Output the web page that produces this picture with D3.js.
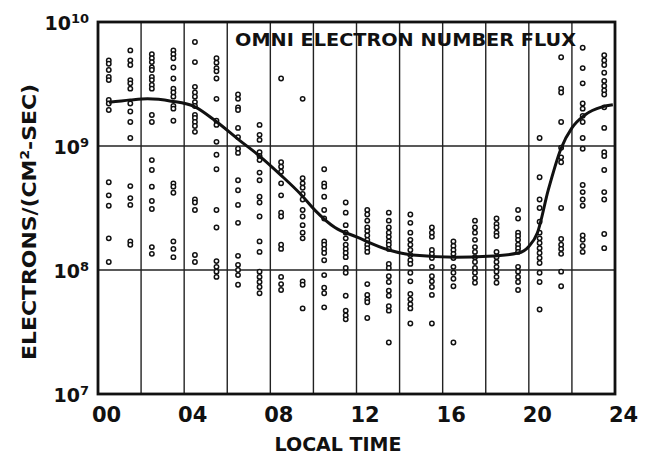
<!DOCTYPE html>
<html>
<head>
<meta charset="utf-8">
<script src="https://cdn.jsdelivr.net/npm/d3@7"></script>
<style>
  body { margin: 0; background: #fff; }
  svg { display: block; }
  text { font-family: "DejaVu Sans", sans-serif; font-weight: bold; fill: #111; }
</style>
</head>
<body>
<svg width="646" height="459"></svg>
<script>
// hourly bins of local time, one column of samples each
let hours = [0.5, 1.5, 2.5, 3.5, 4.5, 5.5, 6.5, 7.5, 8.5, 9.5, 10.5, 11.5,
  12.5, 13.5, 14.5, 15.5, 16.5, 17.5, 18.5, 19.5, 20.5, 21.5, 22.5, 23.5];

// omni electron number flux, electrons/(cm2-sec)
let fluxByHour = [
  [4.9e9, 4.6e9, 4.1e9, 3.6e9, 3.4e9, 2.35e9, 2.2e9, 1.95e9, 5.1e8, 4.0e8, 3.3e8, 1.8e8, 1.16e8],
  [5.9e9, 4.9e9, 4.5e9, 3.4e9, 3.2e9, 2.9e9, 2.2e9, 1.9e9, 1.56e9, 1.16e9, 4.75e8, 3.8e8, 3.35e8, 1.7e8, 1.6e8],
  [5.5e9, 5.1e9, 4.75e9, 4.3e9, 4.1e9, 3.6e9, 3.4e9, 3.1e9, 2.9e9, 1.78e9, 1.56e9, 7.7e8, 6.4e8, 4.7e8, 3.6e8, 3.1e8, 1.53e8, 1.35e8],
  [5.9e9, 5.5e9, 5.1e9, 4.3e9, 3.5e9, 2.9e9, 2.7e9, 2.5e9, 2.1e9, 2.0e9, 1.6e9, 5.0e8, 4.7e8, 4.2e8, 1.7e8, 1.48e8, 1.27e8],
  [6.9e9, 4.75e9, 3.0e9, 2.7e9, 2.5e9, 2.26e9, 2.1e9, 1.78e9, 1.68e9, 1.56e9, 1.45e9, 1.3e9, 3.7e8, 3.5e8, 3.05e8, 1.32e8, 1.16e8],
  [5.1e9, 4.7e9, 4.25e9, 4.0e9, 3.5e9, 2.4e9, 1.6e9, 1.48e9, 1.08e9, 8.5e8, 6.5e8, 3.05e8, 2.2e8, 1.18e8, 1.06e8, 9.7e7, 8.8e7],
  [2.6e9, 2.4e9, 2.05e9, 1.95e9, 1.4e9, 1.18e9, 9.5e8, 8.8e8, 5.3e8, 4.4e8, 3.35e8, 2.4e8, 1.3e8, 1.1e8, 1.0e8, 9.1e7, 7.6e7],
  [1.48e9, 1.23e9, 1.12e9, 8.9e8, 8.3e8, 7.7e8, 6.1e8, 5.3e8, 3.9e8, 3.5e8, 2.7e8, 1.7e8, 1.4e8, 9.7e7, 8.8e7, 8.0e7, 7.3e7, 6.5e7],
  [3.5e9, 7.4e8, 6.8e8, 6.2e8, 5.0e8, 4.0e8, 2.9e8, 2.7e8, 1.6e8, 1.48e8, 8.8e7, 7.7e7, 6.9e7],
  [2.4e9, 5.5e8, 5.0e8, 4.6e8, 4.1e8, 3.7e8, 3.05e8, 2.7e8, 2.3e8, 2.0e8, 1.8e8, 8.1e7, 7.6e7, 4.9e7],
  [6.5e8, 5.0e8, 4.7e8, 3.9e8, 3.05e8, 2.6e8, 1.7e8, 1.6e8, 1.48e8, 1.37e8, 1.2e8, 9.1e7, 7.2e7, 6.5e7, 5.0e7],
  [3.5e8, 2.9e8, 2.3e8, 2.0e8, 1.8e8, 1.6e8, 1.48e8, 1.37e8, 1.27e8, 1.04e8, 9.5e7, 6.2e7, 4.7e7, 4.3e7, 4.0e7],
  [3.05e8, 2.8e8, 2.5e8, 2.2e8, 2.06e8, 1.9e8, 1.75e8, 1.6e8, 1.5e8, 1.4e8, 7.7e7, 6.3e7, 5.8e7, 5.5e7, 4.1e7],
  [2.9e8, 2.5e8, 2.2e8, 2.0e8, 1.85e8, 1.7e8, 1.6e8, 1.48e8, 1.12e8, 1.04e8, 8.9e7, 8.0e7, 6.8e7, 6.2e7, 5.1e7, 4.7e7, 2.6e7],
  [2.8e8, 2.4e8, 2.0e8, 1.75e8, 1.6e8, 1.45e8, 1.32e8, 1.2e8, 1.12e8, 9.5e7, 8.1e7, 6.4e7, 5.8e7, 5.3e7, 4.9e7, 3.7e7],
  [2.2e8, 2.0e8, 1.85e8, 1.45e8, 1.35e8, 1.25e8, 1.06e8, 8.9e7, 8.1e7, 7.3e7, 6.3e7, 3.7e7],
  [1.7e8, 1.56e8, 1.45e8, 1.35e8, 1.25e8, 1.06e8, 9.5e7, 8.5e7, 7.4e7, 2.6e7],
  [2.5e8, 2.2e8, 2.0e8, 1.75e8, 1.53e8, 1.4e8, 1.27e8, 1.16e8, 1.04e8, 9.5e7, 8.6e7, 7.9e7],
  [2.6e8, 2.35e8, 2.2e8, 2.0e8, 1.88e8, 1.4e8, 1.27e8, 1.16e8, 1.06e8, 9.7e7, 8.8e7, 7.9e7],
  [3.05e8, 2.6e8, 2.0e8, 1.88e8, 1.75e8, 1.6e8, 1.5e8, 1.4e8, 1.06e8, 9.7e7, 8.8e7, 8.0e7, 6.9e7],
  [1.16e9, 5.6e8, 3.7e8, 3.16e8, 2.45e8, 2.0e8, 1.8e8, 1.65e8, 1.5e8, 1.37e8, 1.25e8, 1.14e8, 9.5e7, 8.0e7, 4.8e7],
  [5.2e9, 2.9e9, 2.7e9, 1.56e9, 9.7e8, 8.1e8, 7.4e8, 3.16e8, 1.78e8, 1.6e8, 1.48e8, 1.35e8, 9.7e7, 7.4e7],
  [6.2e9, 4.25e9, 3.2e9, 2.2e9, 2.0e9, 1.75e9, 1.56e9, 1.16e9, 9.5e8, 4.85e8, 4.25e8, 3.7e8, 3.3e8, 1.9e8, 1.75e8, 1.56e8, 1.4e8],
  [5.4e9, 4.9e9, 4.5e9, 3.9e9, 3.35e9, 3.05e9, 2.8e9, 2.6e9, 2.05e9, 1.4e9, 8.9e8, 8.3e8, 6.4e8, 4.25e8, 3.7e8, 1.95e8, 1.5e8]
];

// hand drawn average curve
let curveHours = [0.5, 1.5, 2.3, 3.4, 4.5, 5.4, 6.6, 7.5, 8.5, 9.4, 10.1, 11.0, 12.0,
  13.5, 14.6, 16.6, 18.1, 19.5, 20.0, 20.4, 20.9, 21.5, 22.0, 22.6, 23.4, 23.9];
let curveFlux = [2.25e9, 2.35e9, 2.4e9, 2.3e9, 2.07e9, 1.62e9, 1.1e9, 8.3e8, 5.8e8, 4.1e8, 3.0e8, 2.2e8, 1.85e8,
  1.45e8, 1.32e8, 1.27e8, 1.29e8, 1.37e8, 1.55e8, 2.0e8, 4.4e8, 9.6e8, 1.4e9, 1.78e9, 2.07e9, 2.15e9];

let xTicks = [0, 4, 8, 12, 16, 20, 24];
let xGrid = [2, 4, 6, 8, 10, 12, 14, 16, 18, 20, 22];
let yTicks = [1e7, 1e8, 1e9, 1e10];
let yGrid = [1e8, 1e9];

let title = "OMNI ELECTRON NUMBER FLUX";
let xTitle = "LOCAL TIME";

let margin = { top: 22, right: 31, bottom: 65, left: 98 };
let width = 646 - margin.left - margin.right;
let height = 459 - margin.top - margin.bottom;

let xScale = d3.scaleLinear().domain([0, 24]).range([0, width]);
let yScale = d3.scaleLog().domain([1e7, 1e10]).range([height, 0]);

let svg = d3.select("svg")
  .append("g")
  .attr("transform", "translate(" + margin.left + "," + margin.top + ")");

// grid lines
svg.append("g").selectAll("line")
  .data(xGrid)
  .enter().append("line")
  .attr("x1", d => xScale(d)).attr("x2", d => xScale(d))
  .attr("y1", 0).attr("y2", height)
  .attr("stroke", "#222").attr("stroke-width", 1.4);

svg.append("g").selectAll("line")
  .data(yGrid)
  .enter().append("line")
  .attr("x1", 0).attr("x2", width)
  .attr("y1", d => yScale(d)).attr("y2", d => yScale(d))
  .attr("stroke", "#222").attr("stroke-width", 1.4);

// frame
svg.append("rect")
  .attr("width", width).attr("height", height)
  .attr("fill", "none").attr("stroke", "#111").attr("stroke-width", 2.8);

// x axis
let xAxis = d3.axisBottom(xScale)
  .tickValues(xTicks)
  .tickSize(0)
  .tickPadding(12)
  .tickFormat(d3.format("02d"));

let gx = svg.append("g")
  .attr("transform", "translate(0," + height + ")")
  .call(xAxis);
gx.select(".domain").remove();
gx.selectAll("text")
  .attr("font-size", 21)
  .attr("fill", "#111")
  .attr("font-family", null)
  .attr("dy", "0.75em")
  .attr("x", 8);

gx.append("text")
  .attr("x", 240)
  .attr("y", 57)
  .attr("font-size", 19)
  .style("text-anchor", "middle")
  .text(xTitle);

// y axis, labels as powers of ten
let yAxis = d3.axisLeft(yScale)
  .tickValues(yTicks)
  .tickSize(0)
  .tickPadding(9)
  .tickFormat("");

let gy = svg.append("g").call(yAxis);
gy.select(".domain").remove();
gy.selectAll(".tick text")
  .attr("font-size", 19)
  .attr("fill", "#111")
  .attr("font-family", null)
  .attr("dy", "0.38em")
  .each(function(d) {
    let t = d3.select(this);
    t.append("tspan").text("10");
    t.append("tspan")
      .attr("dy", -7)
      .attr("font-size", 13)
      .text(Math.round(Math.log10(d)));
  });

// y title, rotated
let yLabel = d3.select("svg").append("text")
  .attr("transform", "translate(36,222) rotate(-90)")
  .attr("font-size", 19)
  .attr("textLength", 276)
  .attr("lengthAdjust", "spacingAndGlyphs")
  .style("text-anchor", "middle");
yLabel.append("tspan").text("ELECTRONS/(CM");
yLabel.append("tspan").attr("dy", -7).attr("font-size", 12).text("2");
yLabel.append("tspan").attr("dy", 7).text("-SEC)");

// title inside the frame
svg.append("text")
  .attr("x", 137)
  .attr("y", 24)
  .attr("font-size", 18)
  .attr("textLength", 341)
  .attr("lengthAdjust", "spacingAndGlyphs")
  .text(title);

// scatter points
let points = [];
hours.forEach((h, i) => {
  fluxByHour[i].forEach(v => points.push({ h: h, v: v }));
});

svg.append("g").selectAll("circle")
  .data(points)
  .enter().append("circle")
  .attr("cx", d => xScale(d.h))
  .attr("cy", d => yScale(d.v))
  .attr("r", 2.2)
  .attr("fill", "#fff")
  .attr("stroke", "#111")
  .attr("stroke-width", 1.5);

// average curve
let line = d3.line()
  .curve(d3.curveMonotoneX)
  .x((d, i) => xScale(curveHours[i]))
  .y(d => yScale(d));

svg.append("path")
  .attr("d", line(curveFlux))
  .attr("fill", "none")
  .attr("stroke", "#111")
  .attr("stroke-width", 3);
</script>
</body>
</html>
